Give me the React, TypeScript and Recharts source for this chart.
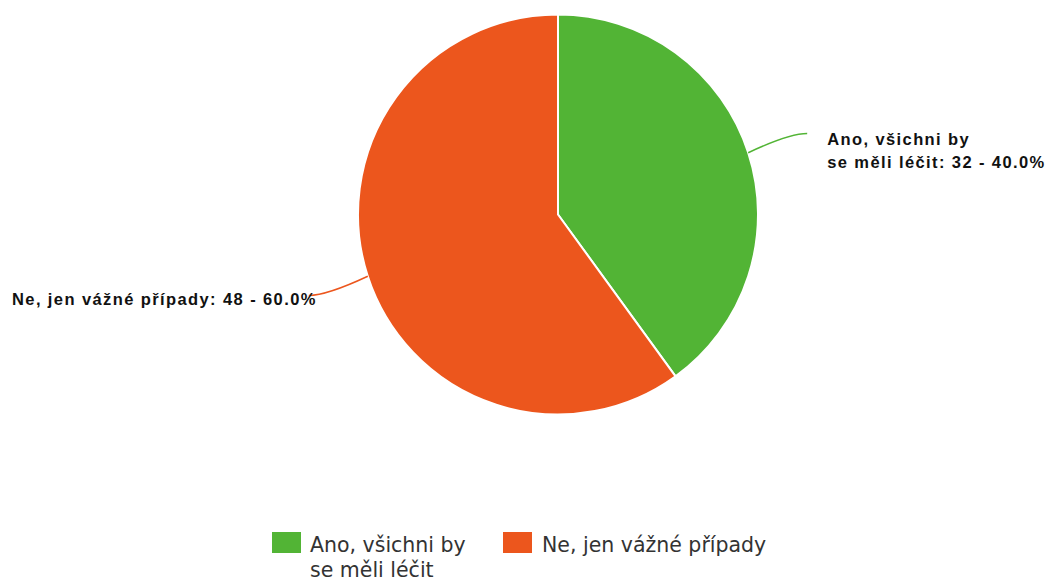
import React from 'react';
import { PieChart, Pie, Cell, Legend } from 'recharts';

const CATEGORIES = ['Ano, všichni by se měli léčit', 'Ne, jen vážné případy'];
const VALUES = [32, 48];
const COLORS = ['#52b435', '#ec561d'];

const data = CATEGORIES.map((name, i) => ({ name, value: VALUES[i] }));
const TOTAL = VALUES.reduce((a, b) => a + b, 0);

const RADIAN = Math.PI / 180;

const renderLabel = ({ cx, cy, midAngle, outerRadius, index, name, value }: any) => {
  const cos = Math.cos(-midAngle * RADIAN);
  const sin = Math.sin(-midAngle * RADIAN);
  const sx = cx + outerRadius * cos;
  const sy = cy + outerRadius * sin;
  const ex = cx + (outerRadius + 62) * cos;
  const ey = cy + (outerRadius + 62) * sin;
  const right = cos >= 0;
  const qx = ex - (right ? 18 : -18);
  const qy = ey;
  const color = COLORS[index % COLORS.length];
  const pct = ((value / TOTAL) * 100).toFixed(1);
  const tx = ex + (right ? 20 : 8);
  const full = `${name}: ${value} - ${pct}%`;
  const lines = index === 0 ? ['Ano, všichni by', `se měli léčit: ${value} - ${pct}%`] : [full];
  const startY = ey + (right ? 11 : 10);
  return (
    <g>
      <path d={`M${sx},${sy} Q${qx},${qy} ${ex},${ey}`} stroke={color} strokeWidth={1.5} fill="none" />
      <text
        x={tx}
        y={startY}
        textAnchor={right ? 'start' : 'end'}
        fill="#111"
        fontFamily="Liberation Sans, Arial, sans-serif"
        fontWeight="bold"
        fontSize={16.5}
        letterSpacing={1.4}
      >
        {lines.map((l, i) => (
          <tspan key={i} x={tx} dy={i === 0 ? 0 : 23}>
            {l}
          </tspan>
        ))}
      </text>
    </g>
  );
};

const lineStyle: React.CSSProperties = { height: 25, lineHeight: '25px', whiteSpace: 'nowrap' };

const renderLegend = () => (
  <div style={{ display: 'flex', fontFamily: 'DejaVu Sans, sans-serif', fontSize: 20.5, color: '#333' }}>
    <div style={{ display: 'flex', alignItems: 'flex-start', width: 231 }}>
      <div style={{ width: 29, height: 21, background: COLORS[0], marginTop: 0, marginRight: 9 }} />
      <div style={{ marginTop: 1 }}>
        <div style={lineStyle}>Ano, všichni by</div>
        <div style={lineStyle}>se měli léčit</div>
      </div>
    </div>
    <div style={{ display: 'flex', alignItems: 'flex-start' }}>
      <div style={{ width: 29, height: 21, background: COLORS[1], marginTop: 0, marginRight: 10 }} />
      <div style={{ ...lineStyle, marginTop: 1 }}>Ne, jen vážné případy</div>
    </div>
  </div>
);

export default function App() {
  return (
    <div style={{ position: 'absolute', left: 0, top: 0, width: 1052, height: 580, background: '#fff' }}>
      <PieChart width={1052} height={580} margin={{ top: 0, right: 0, bottom: 0, left: 0 }}>
        <Pie
          data={data}
          dataKey="value"
          nameKey="name"
          cx={558}
          cy={214.5}
          outerRadius={200}
          startAngle={90}
          endAngle={-270}
          stroke="#fff"
          strokeWidth={2}
          label={renderLabel}
          labelLine={false}
          isAnimationActive={false}
        >
          {data.map((_e, i) => (
            <Cell key={`cell-${i}`} fill={COLORS[i % COLORS.length]} />
          ))}
        </Pie>
        <Legend
          content={renderLegend}
          wrapperStyle={{ position: 'absolute', left: 272, top: 532, width: 560 }}
        />
      </PieChart>
    </div>
  );
}
